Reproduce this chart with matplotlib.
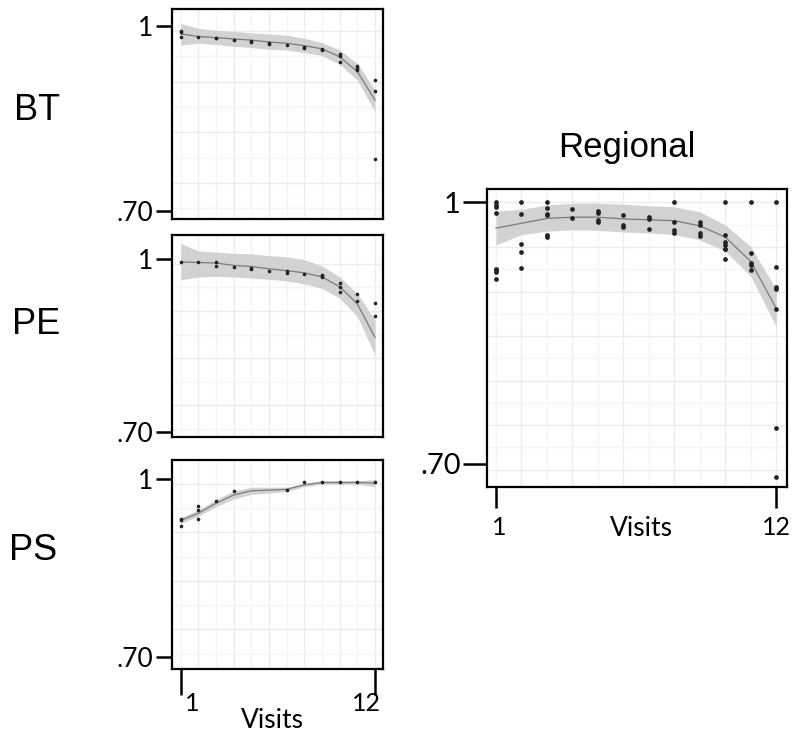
import numpy as np
import matplotlib.pyplot as plt

W, H = 794, 731

visits = np.arange(1, 13)

# observed proportions per visit
bt_x = [1, 1, 1, 2, 3, 3, 4, 5, 5, 6, 6, 7, 8, 8, 9, 9, 10, 10, 10, 11, 11, 11, 12, 12, 12]
bt_y = [0.992, 0.990, 0.982, 0.982, 0.981, 0.980, 0.978, 0.976, 0.974, 0.973, 0.970, 0.969,
        0.966, 0.965, 0.963, 0.961, 0.954, 0.952, 0.941, 0.935, 0.932, 0.928, 0.913, 0.895, 0.785]

pe_x = [1, 2, 3, 3, 4, 5, 5, 6, 7, 7, 8, 9, 9, 9, 10, 10, 10, 11, 11, 12, 12, 12]
pe_y = [0.995, 0.995, 0.995, 0.988, 0.987, 0.985, 0.983, 0.980, 0.979, 0.975, 0.974,
        0.972, 0.970, 0.968, 0.959, 0.951, 0.942, 0.939, 0.928, 0.924, 0.902, 0.690]

ps_x = [1, 1, 1, 2, 2, 2, 3, 4, 7, 8, 9, 10, 11, 12]
ps_y = [0.932, 0.930, 0.921, 0.954, 0.947, 0.932, 0.963, 0.979, 0.981,
        0.994, 0.994, 0.994, 0.994, 0.994]

reg_x = [1] * 8 + [2] * 5 + [3] * 6 + [4] * 2 + [5] * 4 + [6] * 3 + [7] * 3 + [8] * 4 \
    + [9] * 4 + [10] * 7 + [11] * 5 + [12] * 7
reg_y = [1.0, 0.997, 0.995, 0.988, 0.924, 0.922, 0.920, 0.912,
         1.0, 0.987, 0.952, 0.943, 0.925,
         1.0, 0.993, 0.987, 0.985, 0.962, 0.960,
         0.992, 0.982,
         0.990, 0.988, 0.980, 0.977,
         0.985, 0.974, 0.972,
         0.983, 0.981, 0.969,
         1.0, 0.977, 0.968, 0.965,
         0.977, 0.974, 0.965, 0.961,
         1.0, 0.963, 0.954, 0.951, 0.947, 0.946, 0.935,
         1.0, 0.942, 0.930, 0.928, 0.922,
         1.0, 0.926, 0.903, 0.901, 0.878, 0.741, 0.685]

# loess fit and confidence band at each visit
bt_fit = [0.987, 0.983, 0.981, 0.979, 0.977, 0.974, 0.972, 0.968, 0.963, 0.950, 0.926, 0.880]
bt_hi = [1.004, 0.996, 0.993, 0.991, 0.989, 0.987, 0.985, 0.980, 0.973, 0.961, 0.939, 0.896]
bt_lo = [0.969, 0.972, 0.970, 0.967, 0.965, 0.962, 0.961, 0.957, 0.952, 0.938, 0.912, 0.861]

pe_fit = [0.995, 0.994, 0.993, 0.989, 0.987, 0.983, 0.980, 0.976, 0.969, 0.952, 0.922, 0.864]
pe_hi = [1.027, 1.014, 1.012, 1.010, 1.009, 1.006, 1.004, 0.999, 0.988, 0.969, 0.940, 0.894]
pe_lo = [0.964, 0.969, 0.970, 0.969, 0.967, 0.965, 0.962, 0.957, 0.949, 0.932, 0.900, 0.833]

ps_fit = [0.930, 0.942, 0.959, 0.973, 0.980, 0.981, 0.9825, 0.990, 0.994, 0.994, 0.994, 0.993]
ps_hi = [0.935, 0.948, 0.965, 0.980, 0.986, 0.986, 0.986, 0.993, 0.997, 0.997, 0.997, 0.999]
ps_lo = [0.925, 0.937, 0.953, 0.966, 0.974, 0.976, 0.979, 0.987, 0.991, 0.991, 0.991, 0.987]

reg_fit = [0.9705, 0.976, 0.9816, 0.983, 0.983, 0.981, 0.980, 0.979, 0.973, 0.960, 0.932, 0.878]
reg_hi = [0.990, 0.992, 0.997, 0.999, 0.999, 0.998, 0.996, 0.995, 0.989, 0.974, 0.949, 0.900]
reg_lo = [0.951, 0.963, 0.967, 0.9685, 0.968, 0.966, 0.965, 0.963, 0.957, 0.944, 0.915, 0.857]

row_labels = ['BT', 'PE', 'PS']
ytick_labels = ['.70', '1']
xtick_labels = ['1', '12']


def box(l, t, r, b):
    return [l / W, 1 - b / H, (r - l) / W, (b - t) / H]


def panel(rect, xs, ys, fit, lo, hi, xlim, ylim, grid_y, ms, ylab_size, tick_len):
    ax = fig.add_axes(rect)
    ax.set_xlim(*xlim)
    ax.set_ylim(*ylim)
    for i, v in enumerate(visits):
        ax.axvline(v, color='#ececec' if i % 2 else '#f4f4f4', lw=1, zorder=0)
    for i, g in enumerate(grid_y):
        ax.axhline(g, color='#ececec' if i % 2 == 0 else '#f4f4f4', lw=1, zorder=0)
    ax.fill_between(visits, lo, hi, color='#d2d2d2', lw=0, zorder=1)
    ax.plot(visits, fit, color='#7a7a7a', lw=0.9, zorder=2)
    ax.plot(xs, ys, 'o', color='#222222', ms=ms, mew=0, zorder=3)
    for s in ax.spines.values():
        s.set_linewidth(1.6)
        s.set_color('black')
    ax.set_yticks([0.70, 1.0])
    ax.set_yticklabels(ytick_labels, family='Lato', fontsize=ylab_size)
    ax.tick_params(axis='y', length=tick_len, width=1.8, pad=2)
    ax.set_xticks([1, 12])
    ax.set_xticklabels([])
    return ax


fig = plt.figure(figsize=(W / 100, H / 100), dpi=100)

small_grid = np.arange(0.992, 0.68, -0.041)
small_xlim = (0.507, 12.45)

ax_bt = panel(box(172, 9, 383, 219), bt_x, bt_y, bt_fit, bt_lo, bt_hi,
              small_xlim, (0.6877, 1.0274), small_grid, 2.6, 19, 11.5)
ax_bt.tick_params(axis='x', length=0)
ax_pe = panel(box(172, 235, 383, 437), pe_x, pe_y, pe_fit, pe_lo, pe_hi,
              small_xlim, (0.6913, 1.0417), small_grid, 2.6, 19, 11.5)
ax_pe.tick_params(axis='x', length=0)
ax_ps = panel(box(172, 460, 383, 669), ps_x, ps_y, ps_fit, ps_lo, ps_hi,
              small_xlim, (0.679, 1.032), small_grid, 2.6, 19, 11.5)
ax_ps.tick_params(axis='x', length=19, width=1.8, direction='out')

reg_grid = np.arange(1.0, 0.67, -0.0256)
ax_reg = panel(box(487, 189, 787, 487), reg_x, reg_y, reg_fit, reg_lo, reg_hi,
               (0.647, 12.42), (0.673, 1.0154), reg_grid, 3.4, 21, 17)
ax_reg.tick_params(axis='x', length=15, width=1.8, direction='out')

# visit labels under the bottom panels: (x offset of "1", x offset of "12", drop)
for ax, dx1, dx12, dy in [(ax_ps, 8, -6.5, -16.5), (ax_reg, 2, 0, -21)]:
    ax.annotate(xtick_labels[0], xy=(1, 0), xycoords=('data', 'axes fraction'),
                xytext=(dx1, dy), textcoords='offset points',
                ha='center', va='top', family='Lato', fontsize=18)
    ax.annotate(xtick_labels[1], xy=(12, 0), xycoords=('data', 'axes fraction'),
                xytext=(dx12, dy), textcoords='offset points',
                ha='center', va='top', family='Lato', fontsize=18)

fig.text(272 / W, 1 - 720 / H, 'Visits', family='Lato', fontsize=19,
         ha='center', va='center')
fig.text(641 / W, 1 - 528 / H, 'Visits', family='Lato', fontsize=19,
         ha='center', va='center')

fig.text(627 / W, 1 - 147 / H, 'Regional', family='Liberation Sans', fontsize=25,
         ha='center', va='center')

for lab, (x, y) in zip(row_labels, [(37, 110), (36, 325), (33, 550)]):
    fig.text(x / W, 1 - y / H, lab, family='Liberation Sans', fontsize=26,
             ha='center', va='center')

fig.savefig('out.png', dpi=100, facecolor='white')
